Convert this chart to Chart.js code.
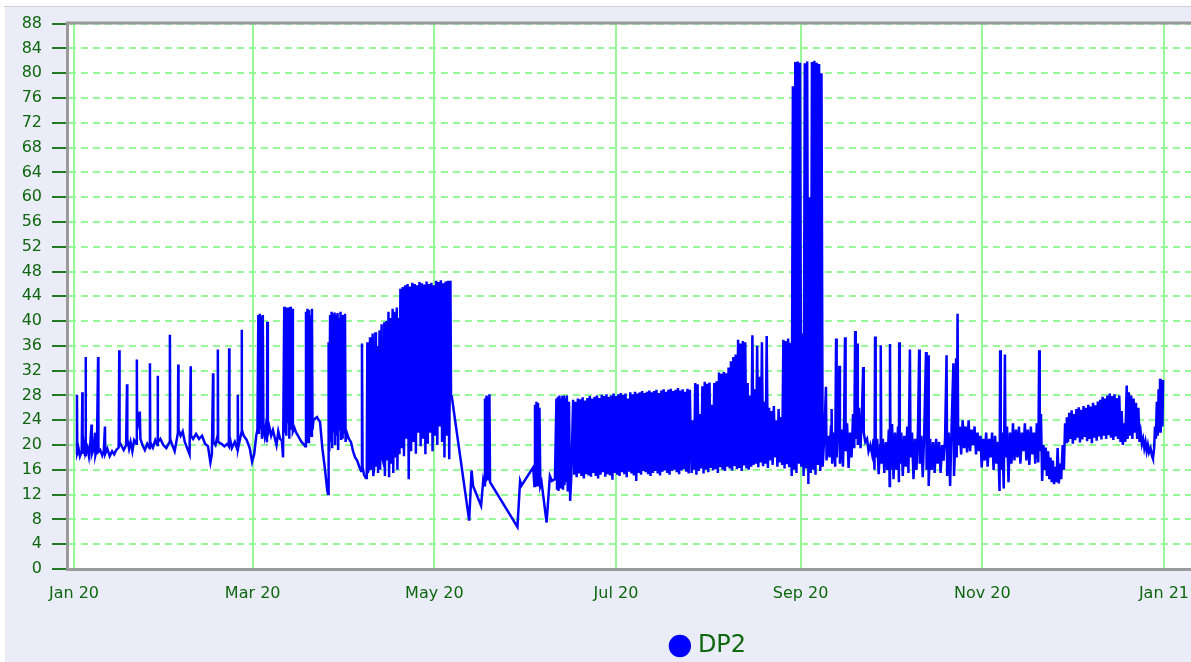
<!DOCTYPE html>
<html><head><meta charset="utf-8">
<script src="https://cdn.jsdelivr.net/npm/chart.js@4.4.1/dist/chart.umd.min.js"></script>
<style>
html,body{margin:0;padding:0;overflow:hidden;background:#fff;width:1191px;height:662px;}
#topline{position:absolute;left:4px;top:6px;width:1187px;height:1px;background:#cdcdd3;}
#wrap{position:absolute;left:5px;top:7px;width:1410px;height:656px;background:#EAEDF7;overflow:hidden;}
canvas{display:block;margin-top:-3px;}
</style></head><body>
<div id="topline"></div>
<div id="wrap"><canvas id="c" width="1410" height="664"></canvas></div>
<script>
// x values are days since 1 Jan 2020
const tickDays = [0, 60, 121, 182, 244, 305, 366];
const tickLabels = ['Jan 20', 'Mar 20', 'May 20', 'Jul 20', 'Sep 20', 'Nov 20', 'Jan 21'];
const seriesName = 'DP2';

const janFeb = [[0.8,18.5],[1.0,28.1],[1.1,18.8],[1.5,19.5],[2.0,18.2],[2.6,19.0],[2.8,28.5],[2.9,18.6],[3.3,20.0],[3.7,18.4],[3.9,34.2],[4.0,18.8],[4.5,19.6],[5.0,18.2],[5.5,20.5],[5.9,23.3],[6.0,18.5],[6.5,19.2],[7.1,22.0],[7.2,18.4],[7.7,19.4],[8.1,34.2],[8.2,18.9],[8.8,19.2],[9.5,18.3],[10.0,19.0],[10.4,23.0],[10.5,18.6],[11.2,19.4],[12.0,18.2],[12.8,19.0],[13.5,18.5],[14.2,19.2],[15.0,19.6],[15.2,35.3],[15.3,20.5],[16.0,19.8],[16.7,19.2],[17.5,20.0],[17.8,29.8],[17.9,21.0],[18.5,19.4],[19.0,20.5],[19.6,19.0],[20.2,20.8],[21.0,20.2],[21.1,33.8],[21.2,22.5],[22.1,25.4],[22.3,21.0],[23.0,20.0],[23.8,19.2],[24.6,20.2],[25.4,19.5],[25.5,33.2],[25.6,20.5],[26.5,19.6],[27.3,20.8],[28.0,20.0],[28.1,31.2],[28.2,20.5],[29.0,21.0],[30.0,20.0],[31.0,19.5],[32.1,20.5],[32.2,37.8],[32.3,21.0],[33.0,20.0],[33.8,19.0],[34.4,20.6],[34.9,22.0],[35.0,33.0],[35.1,22.5],[35.8,21.5],[36.5,22.2],[37.2,20.5],[38.0,19.5],[38.8,18.5],[39.2,32.7],[39.3,21.5],[40.0,21.0],[41.0,21.8],[42.0,21.0],[43.0,21.5],[44.0,20.2],[45.0,19.8],[45.8,17.2],[46.3,18.5],[46.7,31.6],[46.8,20.5],[47.5,20.0],[48.2,21.5],[48.3,35.4],[48.4,20.5],[49.5,20.2],[50.5,19.8],[51.5,20.2],[52.0,19.8],[52.1,35.6],[52.2,21.5],[53.0,19.5],[54.0,20.5],[54.9,19.2],[55.0,28.1],[55.1,19.5],[56.2,22.0],[56.3,38.6],[56.4,22.5],[57.0,21.5],[58.0,20.8],[59.0,19.5],[59.8,17.3]];

const marApr = [[60.5,18.5],[61.2,21.5],[61.6,22.5],[61.9,41.0],[62.1,21.8],[62.4,41.2],[62.6,22.5],[62.9,40.8],[63.1,21.0],[63.4,41.0],[63.6,22.8],[64.0,21.5],[64.4,23.0],[64.8,20.5],[64.9,39.9],[65.1,21.8],[65.6,22.9],[66.2,21.5],[66.8,22.4],[67.4,21.2],[68.0,20.0],[68.6,22.2],[69.2,21.0],[69.8,20.7],[70.2,18.0],[70.6,42.3],[70.8,22.0],[71.1,42.0],[71.3,21.5],[71.6,42.2],[71.8,23.5],[72.1,41.8],[72.3,21.0],[72.6,42.3],[72.8,22.5],[73.1,24.0],[73.3,42.0],[73.5,22.2],[74.0,22.8],[74.6,22.0],[75.2,21.5],[75.8,21.0],[76.4,20.5],[77.0,20.2],[77.6,19.8],[77.9,41.5],[78.1,21.0],[78.4,42.0],[78.6,20.5],[78.9,41.8],[79.1,22.0],[79.4,41.0],[79.6,21.5],[79.9,42.0],[80.1,22.5],[80.4,24.0],[81.0,24.3],[81.6,24.5],[82.2,24.0],[82.6,23.8],[83.4,19.5],[84.3,16.0],[85.0,12.8],[85.3,12.1],[85.5,36.6],[85.7,19.0],[86.0,41.0],[86.2,20.5],[86.5,41.5],[86.7,19.5],[87.0,41.2],[87.2,22.0],[87.5,41.4],[87.7,20.0],[88.0,41.0],[88.2,21.5],[88.5,41.3],[88.7,19.2],[89.0,40.5],[89.2,22.3],[89.5,41.5],[89.7,20.8],[90.0,41.0],[90.2,21.0],[90.5,40.8],[90.7,22.0],[91.0,41.2],[91.2,20.5],[91.6,22.0],[92.3,21.0],[93.0,20.5],[93.7,19.0],[94.4,18.0],[95.1,17.5],[95.8,16.5],[96.4,15.8],[96.7,36.4],[96.9,16.5],[97.4,15.2],[98.0,14.7]];

const mayRamp = [[98.3,14.7],[98.5,36.6],[98.7,15.5],[99.2,17.0],[99.4,37.4],[99.6,16.0],[100.1,18.0],[100.3,38.0],[100.5,15.0],[101.0,17.5],[101.2,38.2],[101.4,16.5],[101.9,36.0],[102.1,15.5],[102.6,38.5],[102.8,16.0],[103.3,39.5],[103.5,18.0],[104.0,17.0],[104.2,39.8],[104.4,15.0],[104.9,40.0],[105.1,17.5],[105.6,41.5],[105.8,14.8],[106.3,40.5],[106.5,17.0],[107.0,42.0],[107.2,15.5],[107.7,41.5],[107.9,18.0],[108.4,42.2],[108.6,16.0],[109.1,40.5],[109.3,18.5]];
const mayHighs = [45.2,45.5,45.8,46.0,45.6,46.2,46.0,45.8,46.3,46.1,45.9,46.4,46.0,46.2,45.8,46.5,46.3,46.6,46.1,46.4,46.5];
const mayLows  = [19.5,18.2,21.0,14.5,19.0,20.5,18.6,22.0,19.8,21.0,18.5,20.2,22.0,19.0,21.5,20.0,23.0,20.5,18.0,21.5,17.7];

const mayJun = [[126.4,46.5],[126.6,28.0],[126.9,27.7],[132.7,7.8],[133.5,15.9],[134.0,13.4],[136.7,10.2],[137.4,14.2],[137.7,13.5],[138.0,27.5],[138.2,14.0],[138.5,28.0],[138.7,14.5],[139.0,27.8],[139.2,15.0],[139.5,28.2],[139.7,14.0],[148.9,6.8],[149.8,14.2],[150.3,13.5],[154.2,16.4],[154.6,13.4],[154.8,26.5],[155.0,14.0],[155.3,27.0],[155.5,13.5],[155.8,26.8],[156.0,14.5],[156.3,26.0],[156.6,13.4],[157.0,14.0],[158.7,7.5],[159.8,15.0],[160.5,14.2],[161.5,14.5],[162.0,27.5],[162.2,13.0],[162.5,27.8],[162.7,12.6],[163.0,28.0],[163.2,13.2],[163.5,27.5],[163.7,14.0],[164.0,27.9],[164.2,12.8],[164.5,28.0],[164.7,13.5],[165.0,27.6],[165.2,14.0],[165.5,28.0],[165.8,12.5],[166.2,27.0],[166.6,11.0],[167.0,15.0]];

const julHighs = [27.3,27.0,27.5,27.4,27.7,27.2,27.6,27.9,27.5,27.8,28.0,27.6,28.1,27.9,28.2,27.8,28.0,28.3,27.9,28.2,28.4,28.1,28.3,27.5,28.5,28.2,28.6,28.3,28.5,28.7,28.4,28.6,28.8,28.5,28.7,28.9,28.4,28.8,29.0,28.6,28.9,29.1,28.7,28.9,29.2,28.8,29.0,28.6,29.1,28.9];
const julLows  = [15.2,14.8,15.4,15.0,14.6,15.3,15.1,14.9,15.5,15.0,14.6,15.2,15.6,14.9,15.3,15.1,14.4,15.5,15.2,15.0,15.6,15.3,14.8,15.7,15.4,15.1,14.2,15.5,15.2,15.8,15.6,15.3,15.0,15.5,15.8,15.4,15.1,15.7,15.9,15.5,15.2,15.8,16.0,15.6,15.3,15.9,16.1,15.7,15.4];

const augHighs = [23.4,24.0,30.0,29.8,25.0,29.5,30.2,29.9,30.1,26.5,30.0,30.3,31.7,31.5,31.8,31.6,32.5,33.5,34.2,34.6,37.0,36.4,36.8,36.6,30.0,28.0,37.7,29.0,36.0,31.0,36.6,27.0,37.6,26.0,25.5,26.3,24.0,25.8,24.5,37.0,36.8,37.2,36.5];
const augLows  = [15.5,16.0,15.2,15.8,16.2,15.4,16.0,15.6,16.3,15.9,16.1,15.5,16.4,16.0,15.8,16.5,16.2,15.9,16.6,16.1,16.3,15.8,16.7,16.2,16.0,16.5,16.8,17.0,16.4,17.2,16.6,17.0,16.3,17.5,16.8,18.0,16.5,17.2,16.8,16.2,16.9,16.4,15.0];

const sepHighs = [77.9,81.8,81.9,81.7,38.0,81.6,81.9,60.0,81.8,82.0,81.7,81.5,80.0];
const sepLows  = [16.0,15.5,17.0,16.5,15.0,16.2,13.7,15.5,16.0,15.2,16.8,15.8];

const sepOct = [[251.4,16.5],[252.0,22.0],[252.5,29.4],[252.7,17.5],[253.2,21.5],[253.7,18.0],[254.2,23.0],[254.4,25.8],[254.6,17.0],[255.1,22.0],[255.6,16.5],[255.9,37.2],[256.1,18.0],[256.6,24.0],[257.0,32.8],[257.2,17.0],[257.7,22.5],[258.2,16.5],[258.6,24.0],[258.9,37.4],[259.1,19.0],[259.6,23.5],[260.1,16.3],[260.6,22.0],[261.1,18.0],[261.6,25.0],[262.0,19.5],[262.3,38.4],[262.5,21.0],[262.8,27.0],[263.0,36.4],[263.2,20.0],[263.6,26.0],[264.1,19.5],[264.6,25.5],[265.0,32.6],[265.2,22.0],[265.7,20.5],[266.3,21.0],[266.8,19.0],[267.4,20.0],[268.0,18.5],[268.5,21.0],[268.8,16.0],[269.0,37.5],[269.2,18.0],[269.7,21.0],[270.2,15.3],[270.7,20.0],[270.9,36.1],[271.1,17.0],[271.6,21.0],[272.1,15.5],[272.6,20.5],[273.1,16.0],[273.6,22.5],[273.9,13.4],[274.0,36.3],[274.2,16.0],[274.7,23.4],[275.2,14.5],[275.7,22.0],[276.2,16.0],[276.7,23.0],[277.0,14.0],[277.1,36.6],[277.3,17.0],[277.8,22.0],[278.3,15.0],[278.8,21.5],[279.3,16.5],[279.8,23.0],[280.2,15.5],[280.7,35.4],[280.9,18.0],[281.4,22.0],[281.9,14.5],[282.4,21.0],[282.9,16.0],[283.4,22.5],[283.8,35.4],[284.0,17.0],[284.5,21.5],[285.0,14.8],[285.5,22.0],[286.1,35.0],[286.3,16.0],[286.6,20.0],[286.8,34.5],[287.0,13.4],[287.5,21.0],[288.0,16.0],[288.5,20.5],[289.0,15.5],[289.5,21.0],[290.0,17.0],[290.5,20.5],[291.0,15.5],[291.5,20.0],[292.0,17.5],[292.5,21.0],[293.0,34.5],[293.2,15.0],[293.7,22.0],[294.2,13.4],[294.7,23.0],[295.3,33.2],[295.5,15.0],[296.0,21.0],[296.2,34.0],[296.4,18.0],[296.7,41.2],[296.9,20.0],[297.4,23.0],[297.9,18.5],[298.4,24.0],[298.9,19.5],[299.4,23.0],[299.9,18.8],[300.4,24.0],[300.9,19.0],[301.4,22.5],[301.9,20.0],[302.4,23.0],[302.9,18.5],[303.4,22.0],[303.9,19.0],[304.4,21.5],[304.8,16.4],[305.3,21.0],[305.8,17.5],[306.3,22.0],[306.8,16.5],[307.3,21.0],[307.8,18.0],[308.3,22.0],[308.8,16.0],[309.3,21.5],[309.8,17.0],[310.3,20.5],[310.8,12.6]];

const novDec = [[311.0,35.3],[311.2,16.0],[311.7,22.0],[312.2,13.0],[312.6,34.6],[312.8,18.0],[313.3,23.0],[313.8,14.0],[314.3,22.0],[314.8,17.0],[315.3,23.5],[315.8,17.5],[316.3,22.5],[316.8,18.0],[317.3,23.0],[317.8,17.0],[318.3,22.0],[318.8,19.0],[319.3,23.5],[319.8,17.5],[320.3,22.5],[320.8,16.8],[321.3,23.0],[321.8,18.5],[322.3,22.0],[322.8,17.0],[323.3,23.5],[323.8,17.2],[324.1,35.3],[324.3,19.0],[324.7,25.0],[325.1,14.2],[325.5,20.0],[325.9,16.0],[326.3,19.6],[326.7,15.0],[327.1,19.0],[327.5,14.5],[327.9,18.0],[328.3,14.0],[328.7,17.5],[329.1,13.7],[329.5,16.5],[329.9,14.0],[330.3,19.5],[330.7,13.8],[331.1,17.0],[331.5,14.5],[332.0,20.0],[332.4,16.0],[332.8,23.5],[333.2,20.5]];

const decHighs = [24.5,25.2,25.6,25.0,25.8,26.1,25.7,26.3,26.0,26.5,26.2,26.8,26.4,27.0,27.3,27.8,27.5,28.0,28.3,27.9,28.2,27.6,28.0,25.5,23.5];
const decLows  = [20.5,21.0,20.2,20.8,21.2,20.4,20.9,21.3,20.6,21.0,20.3,21.2,20.7,21.4,20.9,21.5,21.0,21.6,21.2,20.8,21.4,21.0,20.5,20.0,20.5];

const decEnd = [[353.5,29.6],[353.8,21.0],[354.2,28.5],[354.6,21.5],[355.0,28.0],[355.4,21.0],[355.8,27.5],[356.2,22.0],[356.6,26.8],[357.0,21.0],[357.4,26.0],[357.8,20.5],[358.2,22.0],[358.6,20.2],[359.0,21.0],[359.4,19.5],[359.8,20.5],[360.2,19.0],[360.6,20.0],[361.0,18.8],[361.5,19.5],[362.0,18.2],[362.3,17.8],[362.7,19.5],[363.0,23.0],[363.3,21.0],[363.6,27.0],[363.9,21.5],[364.2,29.0],[364.5,22.0],[364.7,30.7],[364.9,22.0],[365.2,30.2],[365.5,23.0],[365.7,30.5]];

// interleave a dense band of alternating highs and lows
function band(start, step, highs, lows) {
  const pts = [];
  const n = highs.length + lows.length;
  for (let i = 0; i < n; i++) {
    const v = i % 2 === 0 ? highs[i >> 1] : lows[i >> 1];
    if (v === undefined) break;
    pts.push([start + i * step, v]);
  }
  return pts;
}

const allPts = [].concat(
  janFeb, marApr, mayRamp,
  band(109.6, 0.4, mayHighs, mayLows),
  mayJun,
  band(167.6, 0.4, julHighs, julLows),
  band(207.0, 0.4, augHighs, augLows),
  band(241.4, 0.4, sepHighs, sepLows),
  sepOct, novDec,
  band(333.4, 0.4, decHighs, decLows),
  decEnd
).map(p => ({x: p[0], y: p[1]}));

const textGreen = '#0e660e';
const gridGreen = 'rgb(150,248,150)';
const font16 = {family: 'DejaVu Sans', size: 16};

const bgPlugin = {
  id: 'bgPlugin',
  beforeDraw(chart) {
    const {ctx, chartArea: a} = chart;
    ctx.save();
    ctx.fillStyle = '#ffffff';
    ctx.fillRect(a.left, a.top, a.right - a.left, a.bottom - a.top);
    ctx.restore();
  },
  afterDraw(chart) {
    const {ctx, chartArea: a} = chart;
    ctx.save();
    ctx.strokeStyle = '#9a9a9a';
    ctx.lineWidth = 3;
    ctx.beginPath();
    ctx.moveTo(a.left - 1.5, a.top - 0.5);
    ctx.lineTo(a.right, a.top - 0.5);
    ctx.stroke();
    ctx.restore();
  }
};

new Chart(document.getElementById('c'), {
  type: 'line',
  data: {
    datasets: [{
      label: seriesName,
      data: allPts,
      borderColor: '#0000ff',
      backgroundColor: '#0000ff',
      borderWidth: 2.5,
      pointRadius: 0,
      pointStyle: 'circle',
      tension: 0,
      fill: false
    }]
  },
  options: {
    responsive: false,
    animation: false,
    devicePixelRatio: 1,
    layout: {padding: {top: 13, left: 0, right: 0, bottom: 0}},
    plugins: {
      tooltip: {enabled: false},
      legend: {
        position: 'bottom',
        labels: {
          usePointStyle: true,
          pointStyle: 'circle',
          boxWidth: 12,
          boxHeight: 14,
          padding: 1,
          color: textGreen,
          font: {family: 'DejaVu Sans', size: 24}
        }
      }
    },
    scales: {
      x: {
        type: 'linear',
        min: -2.35,
        max: 450.3,
        afterBuildTicks: s => { s.ticks = tickDays.map(v => ({value: v})); },
        afterFit: s => { s.height = 64; },
        grid: {color: gridGreen, lineWidth: 2, drawTicks: false},
        border: {display: true, color: '#9a9a9a', width: 3},
        ticks: {
          autoSkip: false, maxRotation: 0, padding: 15, color: textGreen, font: font16,
          callback: v => { const i = tickDays.indexOf(v); return i >= 0 ? tickLabels[i] : ''; }
        }
      },
      y: {
        type: 'linear',
        min: 0,
        max: 88,
        afterFit: s => { s.width = 62; },
        grid: {color: gridGreen, lineWidth: 2, tickLength: 15, tickColor: '#237a23', tickWidth: 2},
        border: {display: true, color: '#9a9a9a', width: 3, dash: [7, 5]},
        ticks: {stepSize: 4, padding: 10, color: textGreen, font: font16}
      }
    }
  },
  plugins: [bgPlugin]
});
</script></body></html>
